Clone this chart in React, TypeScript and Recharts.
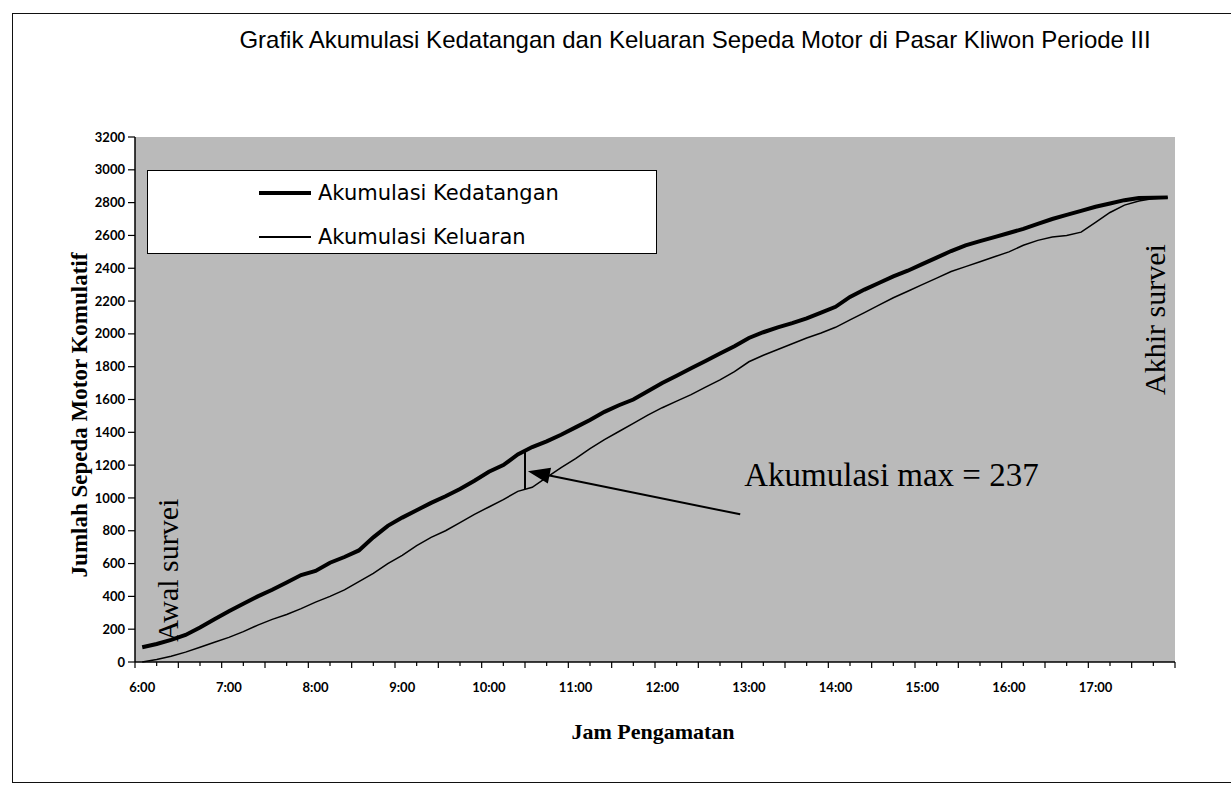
import { LineChart, Line, XAxis, YAxis, CartesianGrid, ReferenceLine, ReferenceDot } from "recharts";

// menit setelah 06:00, interval 10 menit (06:00 - 17:50)
const menit = Array.from({ length: 72 }, (_, i) => i * 10);

const kedatangan = [
  90, 110, 135, 165, 210, 260,
  310, 355, 400, 440, 485, 530,
  555, 605, 640, 680, 760, 830,
  880, 925, 970, 1010, 1055, 1105,
  1160, 1200, 1265, 1310, 1345, 1385,
  1430, 1475, 1525, 1565, 1600, 1650,
  1700, 1745, 1790, 1835, 1880, 1925,
  1975, 2010, 2040, 2065, 2095, 2130,
  2165, 2225, 2270, 2310, 2350, 2385,
  2425, 2465, 2505, 2540, 2565, 2590,
  2615, 2640, 2670, 2700, 2725, 2750,
  2775, 2795, 2815, 2828, 2830, 2832,
];

const keluaran = [
  0, 15, 35, 60, 90, 120,
  150, 185, 225, 260, 290, 325,
  365, 400, 440, 490, 540, 600,
  650, 710, 760, 800, 850, 900,
  945, 990, 1040, 1065, 1125, 1185,
  1240, 1300, 1355, 1405, 1455, 1505,
  1550, 1590, 1630, 1675, 1720, 1770,
  1830, 1870, 1905, 1940, 1975, 2005,
  2040, 2085, 2130, 2175, 2220, 2260,
  2300, 2340, 2380, 2410, 2440, 2470,
  2500, 2540, 2570, 2590, 2600, 2620,
  2680, 2740, 2785, 2810, 2825, 2830,
];

const jamLabels = ["6:00", "7:00", "8:00", "9:00", "10:00", "11:00", "12:00", "13:00", "14:00", "15:00", "16:00", "17:00"];
const yTicks = [0, 200, 400, 600, 800, 1000, 1200, 1400, 1600, 1800, 2000, 2200, 2400, 2600, 2800, 3000, 3200];

const SERIES_IN = "Akumulasi Kedatangan";
const SERIES_OUT = "Akumulasi Keluaran";
const MAX_AT = 265; // 10:25
const MAX_TEXT = "Akumulasi max = 237";

const data = menit.map((m, i) => ({ m, masuk: kedatangan[i], keluar: keluaran[i] }));

const labelTicks = jamLabels.map((_, i) => i * 60);
const markTicks = Array.from({ length: 49 }, (_, i) => -5 + i * 15);
const xTicks = [...markTicks, ...labelTicks].sort((a, b) => a - b);

function valueAt(arr: number[], m: number) {
  const i = Math.floor(m / 10);
  const t = (m - i * 10) / 10;
  return arr[i] + (arr[Math.min(i + 1, arr.length - 1)] - arr[i]) * t;
}

const tickFont = { fontFamily: "Lato, 'DejaVu Sans', sans-serif", fontWeight: 700, fontSize: 13, fill: "#000" };
const serif = "'Liberation Serif', 'Times New Roman', serif";

const XTick = (props: any) => {
  const { x, y, payload } = props;
  const v = payload.value;
  if (v % 60 === 0) {
    return (
      <text x={x} y={y + 30} textAnchor="middle" {...tickFont}>
        {jamLabels[v / 60]}
      </text>
    );
  }
  const major = (v + 5) % 30 === 0;
  return <line x1={x} x2={x} y1={y} y2={y + (major ? 6 : 4)} stroke="#000" strokeWidth={1.2} />;
};

const ArrowShape = (props: any) => {
  const { x1, y1, x2, y2 } = props;
  const ang = Math.atan2(y2 - y1, x2 - x1);
  const L = 22;
  const W = 8;
  const bx = x2 - L * Math.cos(ang);
  const by = y2 - L * Math.sin(ang);
  const px = -Math.sin(ang) * W;
  const py = Math.cos(ang) * W;
  return (
    <g>
      <line x1={x1} y1={y1} x2={bx} y2={by} stroke="#000" strokeWidth={2} />
      <polygon points={`${x2},${y2} ${bx + px},${by + py} ${bx - px},${by - py}`} fill="#000" />
      <text x={x1 + 4} y={y1 - 28} fontFamily={serif} fontSize={33} fill="#000">
        {MAX_TEXT}
      </text>
    </g>
  );
};

const RotatedText = (text: string) => (props: any) => (
  <text
    x={props.cx}
    y={props.cy}
    transform={`rotate(-90 ${props.cx} ${props.cy})`}
    textAnchor="middle"
    fontFamily={serif}
    fontSize={30}
    fill="#000"
  >
    {text}
  </text>
);

const legendRow = (top: number, width: number, name: string) => (
  <div style={{ position: "absolute", left: 0, top, width: "100%", height: 0 }}>
    <div style={{ position: "absolute", left: 111, top: -width / 2, width: 52, height: width, background: "#000" }} />
    <div
      style={{
        position: "absolute",
        left: 170,
        top: -14,
        fontFamily: "'DejaVu Sans', sans-serif",
        fontSize: 21,
        lineHeight: "28px",
        color: "#000",
        whiteSpace: "nowrap",
      }}
    >
      {name}
    </div>
  </div>
);

export default function App() {
  const upperMax = valueAt(kedatangan, MAX_AT);
  const lowerMax = valueAt(keluaran, MAX_AT);
  return (
    <div style={{ position: "absolute", left: 0, top: 0, width: 1231, height: 790, background: "#fff", overflow: "hidden" }}>
      <div
        style={{
          position: "absolute",
          left: 12,
          top: 13,
          width: 1240,
          height: 768,
          borderLeft: "1.5px solid #111",
          borderTop: "1.5px solid #111",
          borderBottom: "1.5px solid #111",
        }}
      />
      <div
        style={{
          position: "absolute",
          left: 195,
          width: 1000,
          top: 26,
          textAlign: "center",
          fontFamily: "'Liberation Sans', Arial, sans-serif",
          fontSize: 24,
          color: "#000",
          whiteSpace: "nowrap",
        }}
      >
        Grafik Akumulasi Kedatangan dan Keluaran Sepeda Motor di Pasar Kliwon Periode III
      </div>

      <LineChart width={1231} height={790} data={data} margin={{ top: 137, right: 56, bottom: 98, left: 75 }} style={{ position: "absolute", left: 0, top: 0 }}>
        <CartesianGrid horizontal={false} vertical={false} fill="#bababa" fillOpacity={1} />
        <XAxis
          dataKey="m"
          type="number"
          domain={[-5, 715]}
          ticks={xTicks}
          interval={0}
          tick={<XTick />}
          tickSize={0}
          tickMargin={0}
          axisLine={{ stroke: "#000", strokeWidth: 1.5 }}
          tickLine={false}
          height={30}
          allowDataOverflow
        />
        <YAxis
          type="number"
          domain={[0, 3200]}
          ticks={yTicks}
          interval={0}
          width={60}
          tickSize={7}
          tickMargin={3}
          tick={tickFont}
          axisLine={{ stroke: "#000", strokeWidth: 1.5 }}
          tickLine={{ stroke: "#000", strokeWidth: 1.2 }}
        />
        <Line type="linear" dataKey="keluar" name={SERIES_OUT} stroke="#000" strokeWidth={1.5} dot={false} isAnimationActive={false} />
        <Line type="linear" dataKey="masuk" name={SERIES_IN} stroke="#000" strokeWidth={4} dot={false} isAnimationActive={false} />
        <ReferenceLine
          segment={[
            { x: MAX_AT, y: lowerMax },
            { x: MAX_AT, y: upperMax },
          ]}
          stroke="#000"
          strokeWidth={2}
        />
        <ReferenceLine
          segment={[
            { x: 414, y: 900 },
            { x: 267, y: 1163 },
          ]}
          shape={ArrowShape}
        />
        <ReferenceDot x={25} y={560} r={0} shape={RotatedText("Awal survei")} />
        <ReferenceDot x={708} y={2087} r={0} shape={RotatedText("Akhir survei")} />
      </LineChart>

      <div
        style={{
          position: "absolute",
          left: 80,
          top: 415,
          transform: "translate(-50%, -50%) rotate(-90deg)",
          fontFamily: serif,
          fontWeight: 700,
          fontSize: 23,
          whiteSpace: "nowrap",
          color: "#000",
        }}
      >
        Jumlah Sepeda Motor Komulatif
      </div>
      <div
        style={{
          position: "absolute",
          left: 653,
          top: 732,
          transform: "translate(-50%, -50%)",
          fontFamily: serif,
          fontWeight: 700,
          fontSize: 22,
          whiteSpace: "nowrap",
          color: "#000",
        }}
      >
        Jam Pengamatan
      </div>

      <div
        style={{
          position: "absolute",
          left: 147,
          top: 170,
          width: 510,
          height: 84,
          background: "#fff",
          border: "1.5px solid #000",
          boxSizing: "border-box",
        }}
      >
        {legendRow(22, 4, SERIES_IN)}
        {legendRow(66, 1.5, SERIES_OUT)}
      </div>
    </div>
  );
}
